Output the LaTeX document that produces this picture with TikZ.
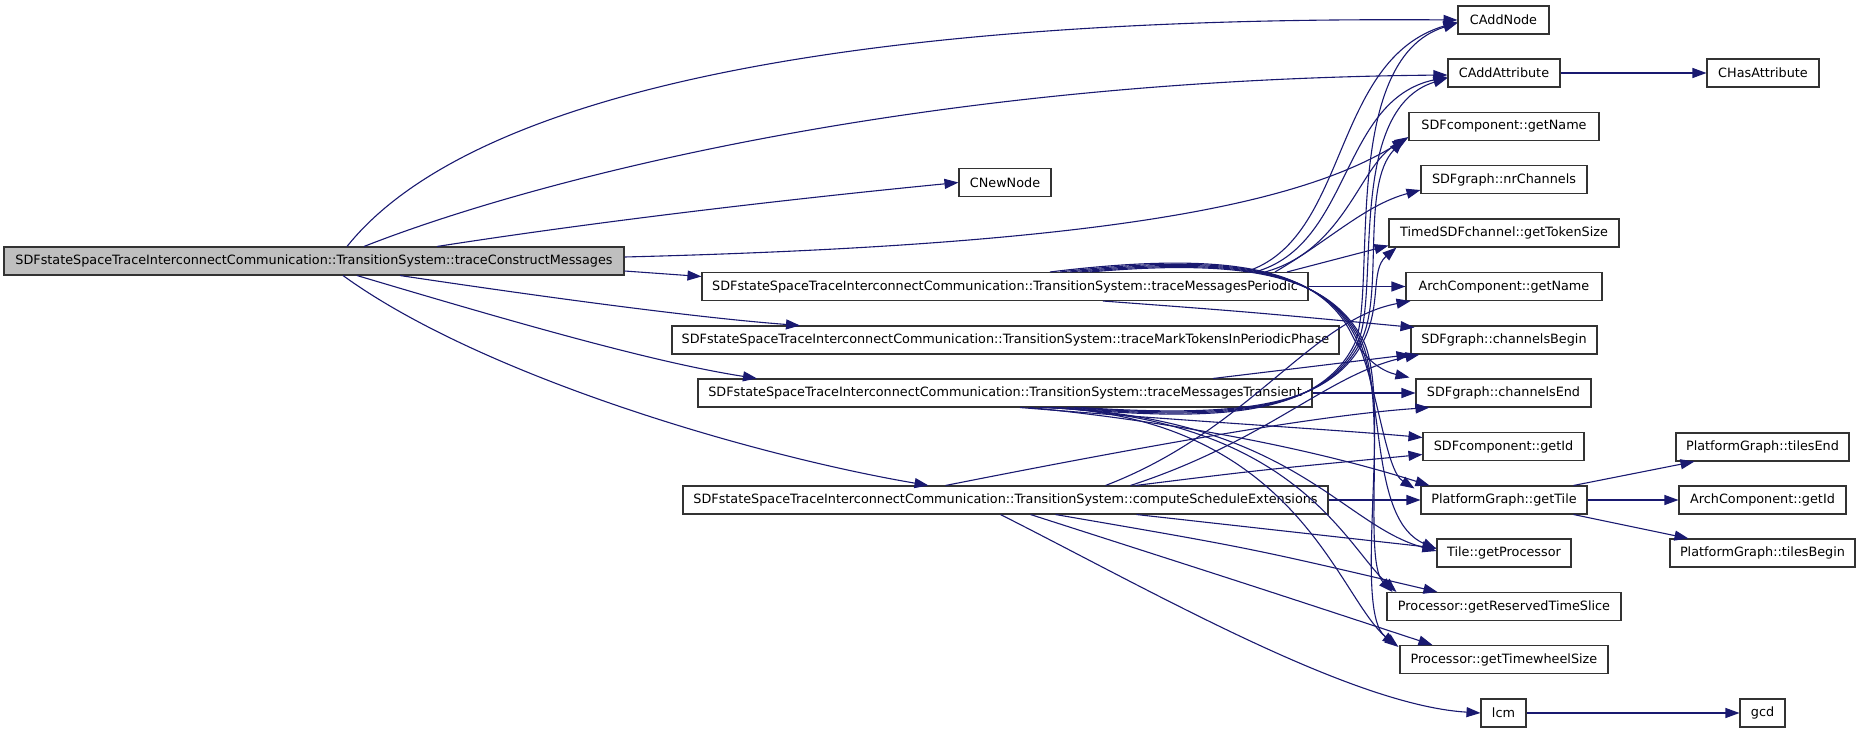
\documentclass[tikz,border=0pt]{standalone}
\usepackage{fontspec}
\setmainfont{DejaVu Sans}
\usetikzlibrary{arrows.meta}
\definecolor{edgec}{HTML}{191970}
\definecolor{boxc}{HTML}{333333}
\begin{document}
\begin{tikzpicture}[x=1pt,y=-1pt,
  box/.style={draw=boxc,line width=1.05pt,fill=white,minimum height=28pt,inner xsep=2pt,inner ysep=0pt,font=\fontsize{12.8}{14}\selectfont},
  call/.style={draw=edgec,line width=1.1pt,-{Triangle[length=14pt,width=10pt]}}]
\useasboundingbox (0,0) rectangle (1861,733);
% nodes
\node[box,fill=gray!50,minimum width=620pt] (root) at (314,261) {SDFstateSpaceTraceInterconnectCommunication::TransitionSystem::traceConstructMessages};
\node[box,minimum width=91pt]  (cadd)  at (1503.5,20)  {CAddNode};
\node[box,minimum width=112pt] (cattr) at (1504,73)    {CAddAttribute};
\node[box,minimum width=112pt] (chas)  at (1763,73)    {CHasAttribute};
\node[box,minimum width=190pt] (sname) at (1504,126.5) {SDFcomponent::getName};
\node[box,minimum width=166pt] (nrch)  at (1504,179.5) {SDFgraph::nrChannels};
\node[box,minimum width=230pt] (toks)  at (1504,233)   {TimedSDFchannel::getTokenSize};
\node[box,minimum width=196pt] (aname) at (1504,286.5) {ArchComponent::getName};
\node[box,minimum width=186pt] (chb)   at (1504,340)   {SDFgraph::channelsBegin};
\node[box,minimum width=175pt] (che)   at (1503.5,393) {SDFgraph::channelsEnd};
\node[box,minimum width=161pt] (sid)   at (1503.5,446.5) {SDFcomponent::getId};
\node[box,minimum width=166pt] (gtile) at (1504,500)   {PlatformGraph::getTile};
\node[box,minimum width=134pt] (tproc) at (1504,553)   {Tile::getProcessor};
\node[box,minimum width=234pt] (rts)   at (1504,606.5) {Processor::getReservedTimeSlice};
\node[box,minimum width=208pt] (tws)   at (1504,659.5) {Processor::getTimewheelSize};
\node[box,minimum width=45pt]  (lcm)   at (1503.5,713) {lcm};
\node[box,minimum width=173pt] (tend)  at (1762.5,447) {PlatformGraph::tilesEnd};
\node[box,minimum width=167pt] (aid)   at (1762.5,500) {ArchComponent::getId};
\node[box,minimum width=185pt] (tbeg)  at (1762.5,553) {PlatformGraph::tilesBegin};
\node[box,minimum width=45pt]  (gcd)   at (1762.5,713) {gcd};
\node[box,minimum width=92pt]  (cnew)  at (1005,182.5) {CNewNode};
\node[box,minimum width=606pt] (P)  at (1005,286.5) {SDFstateSpaceTraceInterconnectCommunication::TransitionSystem::traceMessagesPeriodic};
\node[box,minimum width=667pt] (MT) at (1005.5,340) {SDFstateSpaceTraceInterconnectCommunication::TransitionSystem::traceMarkTokensInPeriodicPhase};
\node[box,minimum width=614pt] (T)  at (1005,393)   {SDFstateSpaceTraceInterconnectCommunication::TransitionSystem::traceMessagesTransient};
\node[box,minimum width=645pt] (C)  at (1005.5,500) {SDFstateSpaceTraceInterconnectCommunication::TransitionSystem::computeScheduleExtensions};
% root edges
\draw[call] ([xshift=33pt]root.north) .. controls (460,105) and (800,15) .. (cadd.west);
\draw[call] ([xshift=50pt]root.north) .. controls (520,185) and (900,80) .. ([yshift=-2pt]cattr.west);
\draw[call] ([xshift=123pt]root.north) .. controls (620,218) and (820,196) .. (cnew.west);
\draw[call] ([yshift=4pt]root.east) .. controls (1100,245) and (1300,205) .. ([yshift=4pt]sname.south west);
\draw[call] ([yshift=-10pt]root.east) -- ([yshift=10pt]P.west);
\draw[call] ([xshift=86pt]root.south) .. controls (550,298) and (700,318) .. ([xshift=-205.5pt]MT.north);
\draw[call] ([xshift=43pt]root.south) .. controls (500,318) and (650,362) .. ([xshift=-248pt]T.north);
\draw[call] ([xshift=29pt]root.south) .. controls (480,375) and (750,455) .. ([xshift=-77pt]C.north);
% simple edges
\draw[call] (cattr.east) -- (chas.west);
\draw[call] ([xshift=-14pt]gtile.north east) -- ([xshift=19pt]tend.south west);
\draw[call] (gtile.east) -- (aid.west);
\draw[call] ([xshift=-14pt]gtile.south east) -- ([xshift=19pt]tbeg.north west);
\draw[call] (lcm.east) -- (gcd.west);
% traceMessagesPeriodic edges
\draw[call] ([xshift=240pt]P.north) .. controls (1350,240) and (1330,60) .. ([yshift=-2pt]cadd.west);
\draw[call] ([xshift=250pt]P.north) .. controls (1352,245) and (1340,100) .. ([yshift=-4pt]cattr.west);
\draw[call] ([xshift=260pt]P.north) .. controls (1345,250) and (1360,165) .. ([xshift=-2pt,yshift=2pt]sname.south west);
\draw[call] ([xshift=270pt]P.north) .. controls (1330,240) and (1365,205) .. ([yshift=4pt]nrch.south west);
\draw[call] ([xshift=282pt]P.north) -- ([yshift=2pt]toks.south west);
\draw[call] (P.east) -- (aname.west);
\draw[call] ([xshift=98pt]P.south) .. controls (1250,312) .. ([xshift=4pt,yshift=-2pt]chb.north west);
\draw[call] ([xshift=45pt]P.north) .. controls (1230,250) and (1320,268) .. (1352,335) .. controls (1365,362) and (1385,372) .. ([xshift=-6pt,yshift=1pt]che.north west);
\draw[call] ([xshift=55pt]P.north) .. controls (1235,252) and (1322,270) .. (1355,336) .. controls (1378,385) and (1385,470) .. ([xshift=-6pt,yshift=-3pt]gtile.north west);
\draw[call] ([xshift=65pt]P.north) .. controls (1240,254) and (1325,272) .. (1358,338) .. controls (1385,395) and (1370,520) .. ([yshift=4pt]tproc.west);
\draw[call] ([xshift=75pt]P.north) .. controls (1245,256) and (1328,274) .. (1361,340) .. controls (1388,400) and (1362,560) .. ([xshift=6pt]rts.north west);
\draw[call] ([xshift=85pt]P.north) .. controls (1250,258) and (1331,276) .. (1364,342) .. controls (1392,405) and (1352,612) .. ([xshift=-3pt]tws.north west);
% traceMessagesTransient edges
\draw[call] ([xshift=55pt]T.south) .. controls (1230,424) and (1320,412) .. (1354,345) .. controls (1378,296) and (1338,60) .. ([yshift=-3pt]cadd.west);
\draw[call] ([xshift=62pt]T.south) .. controls (1235,422) and (1323,410) .. (1357,344) .. controls (1381,297) and (1345,110) .. ([yshift=-5pt]cattr.west);
\draw[call] ([xshift=69pt]T.south) .. controls (1240,420) and (1326,408) .. (1360,343) .. controls (1385,298) and (1360,185) .. ([xshift=-5pt,yshift=1pt]sname.south west);
\draw[call] ([xshift=76pt]T.south) .. controls (1245,418) and (1329,406) .. (1363,342) .. controls (1382,305) and (1370,270) .. ([xshift=8pt]toks.south west);
\draw[call] ([xshift=208pt]T.north) .. controls (1300,368) .. (chb.south west);
\draw[call] (T.east) -- (che.west);
\draw[call] ([xshift=15pt]T.south) .. controls (1200,422) and (1340,430) .. ([yshift=9pt]sid.west);
\draw[call] ([xshift=25pt]T.south) .. controls (1250,430) and (1380,470) .. ([xshift=9pt]gtile.north west);
\draw[call] ([xshift=35pt]T.south) .. controls (1290,415) and (1340,525) .. ([yshift=2pt]tproc.west);
\draw[call] ([xshift=40pt]T.south) .. controls (1295,418) and (1345,545) .. ([xshift=10pt]rts.north west);
\draw[call] ([xshift=45pt]T.south) .. controls (1300,420) and (1338,600) .. ([xshift=-1pt,yshift=-2pt]tws.north west);
% computeScheduleExtensions edges
\draw[call] ([xshift=100pt]C.north) .. controls (1250,430) and (1310,320) .. ([xshift=5pt]aname.south west);
\draw[call] ([xshift=125pt]C.north) .. controls (1270,440) and (1330,372) .. ([xshift=9pt]chb.south west);
\draw[call] ([xshift=-60pt]C.north) .. controls (1150,445) and (1320,415) .. ([xshift=14pt]che.south west);
\draw[call] ([xshift=130pt]C.north) .. controls (1260,470) .. ([yshift=-8pt]sid.west);
\draw[call] (C.east) -- (gtile.west);
\draw[call] ([xshift=131pt]C.south) -- ([yshift=5pt]tproc.west);
\draw[call] ([xshift=50pt]C.south) .. controls (1250,548) .. ([xshift=51pt]rts.north west);
\draw[call] ([xshift=25pt]C.south) .. controls (1250,585) .. ([xshift=33pt]tws.north west);
\draw[call] ([xshift=-5pt]C.south) .. controls (1150,590) and (1350,705) .. (lcm.west);
\end{tikzpicture}
\end{document}
